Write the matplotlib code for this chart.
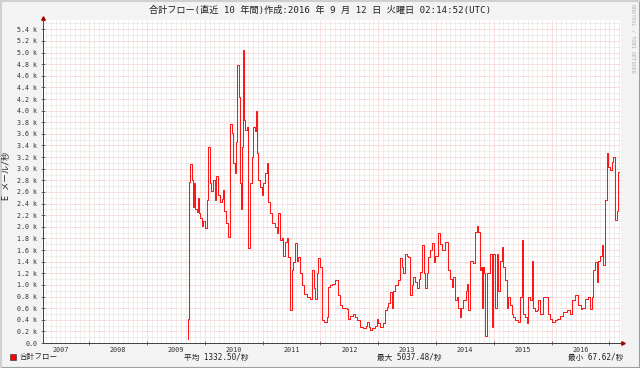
import numpy as np
import matplotlib
matplotlib.use("Agg")
from matplotlib import pyplot as plt
from matplotlib.patches import Rectangle
from matplotlib.lines import Line2D

# 合計フロー: decimal year / value in k mails per second
years = [2009.20, 2009.215, 2009.225, 2009.24, 2009.27, 2009.29, 2009.31, 2009.33, 2009.36, 2009.38,
         2009.40, 2009.42, 2009.45, 2009.47, 2009.50, 2009.53, 2009.56, 2009.59, 2009.61, 2009.64,
         2009.68, 2009.70, 2009.73, 2009.76, 2009.79, 2009.81, 2009.84, 2009.87, 2009.90, 2009.93,
         2009.97, 2009.99, 2010.02, 2010.04, 2010.06, 2010.09, 2010.10, 2010.12, 2010.14, 2010.16,
         2010.18, 2010.20, 2010.23, 2010.25, 2010.28, 2010.31, 2010.33, 2010.36, 2010.39, 2010.40,
         2010.42, 2010.45, 2010.49, 2010.51, 2010.54, 2010.57, 2010.59, 2010.63, 2010.66, 2010.71,
         2010.75, 2010.77, 2010.80, 2010.83, 2010.85, 2010.89, 2010.92, 2010.94, 2010.97, 2011.00,
         2011.03, 2011.06, 2011.09, 2011.11, 2011.15, 2011.18, 2011.21, 2011.27, 2011.32, 2011.35,
         2011.38, 2011.41, 2011.44, 2011.46, 2011.49, 2011.53, 2011.57, 2011.61, 2011.63, 2011.67,
         2011.70, 2011.75, 2011.80, 2011.83, 2011.87, 2011.96, 2011.98, 2012.01, 2012.06, 2012.10,
         2012.13, 2012.18, 2012.24, 2012.28, 2012.31, 2012.34, 2012.36, 2012.40, 2012.44, 2012.48,
         2012.50, 2012.53, 2012.58, 2012.62, 2012.65, 2012.67, 2012.70, 2012.73, 2012.76, 2012.79,
         2012.84, 2012.88, 2012.91, 2012.93, 2012.96, 2012.99, 2013.02, 2013.05, 2013.08, 2013.10,
         2013.14, 2013.17, 2013.20, 2013.22, 2013.26, 2013.29, 2013.31, 2013.34, 2013.36, 2013.40,
         2013.43, 2013.46, 2013.48, 2013.53, 2013.57, 2013.60, 2013.66, 2013.71, 2013.75, 2013.78,
         2013.79, 2013.83, 2013.86, 2013.88, 2013.91, 2013.94, 2013.97, 2014.02, 2014.04, 2014.05,
         2014.09, 2014.14, 2014.17, 2014.21, 2014.23, 2014.26, 2014.28, 2014.30, 2014.31, 2014.33,
         2014.35, 2014.38, 2014.43, 2014.47, 2014.49, 2014.52, 2014.55, 2014.57, 2014.61, 2014.64,
         2014.66, 2014.69, 2014.73, 2014.75, 2014.78, 2014.81, 2014.84, 2014.87, 2014.92, 2014.95,
         2014.99, 2015.00, 2015.04, 2015.07, 2015.09, 2015.13, 2015.16, 2015.18, 2015.22, 2015.25,
         2015.26, 2015.30, 2015.35, 2015.42, 2015.44, 2015.48, 2015.51, 2015.55, 2015.59, 2015.65,
         2015.70, 2015.77, 2015.82, 2015.85, 2015.90, 2015.96, 2016.00, 2016.03, 2016.08, 2016.13,
         2016.16, 2016.20, 2016.22, 2016.25, 2016.29, 2016.30, 2016.34, 2016.37, 2016.39, 2016.42,
         2016.46, 2016.48, 2016.51, 2016.54, 2016.56, 2016.60, 2016.63, 2016.65, 2016.67]
flow_k = [0.07, 0.42, 2.77, 3.08, 2.80, 2.34, 2.75, 2.30, 2.25, 2.50,
          2.23, 2.15, 2.02, 2.10, 1.98, 2.46, 3.37, 2.75, 2.62, 2.80,
          2.46, 2.87, 2.55, 2.42, 2.48, 2.63, 2.28, 2.06, 1.82, 3.77,
          3.62, 3.10, 2.92, 3.46, 4.79, 4.24, 2.75, 2.30, 3.37, 5.04,
          3.84, 3.67, 3.72, 1.63, 2.75, 3.20, 3.72, 3.65, 4.00, 3.27,
          2.80, 2.68, 2.54, 2.75, 2.92, 3.10, 2.42, 2.23, 2.06, 2.00,
          1.90, 2.23, 1.77, 1.80, 1.50, 1.74, 1.80, 1.48, 0.56, 1.25,
          1.40, 1.72, 1.42, 1.48, 1.20, 1.00, 0.85, 0.79, 0.76, 1.25,
          0.95, 0.76, 1.20, 1.46, 1.30, 0.39, 0.36, 0.44, 0.96, 1.00,
          1.02, 1.08, 0.82, 0.65, 0.61, 0.58, 0.42, 0.47, 0.50, 0.44,
          0.40, 0.27, 0.25, 0.30, 0.36, 0.28, 0.22, 0.26, 0.30, 0.42,
          0.35, 0.27, 0.35, 0.56, 0.62, 0.68, 0.87, 0.61, 0.90, 1.00,
          1.08, 1.46, 1.30, 1.20, 1.54, 1.50, 1.48, 0.82, 1.00, 1.13,
          1.05, 0.94, 1.10, 1.22, 1.68, 1.20, 0.94, 1.20, 1.48, 1.60,
          1.72, 1.40, 1.50, 1.89, 1.70, 1.60, 1.74, 1.25, 1.10, 0.96,
          1.13, 0.74, 0.80, 0.61, 0.44, 0.60, 0.74, 0.90, 1.02, 0.56,
          1.42, 1.37, 1.91, 2.02, 1.91, 1.25, 1.30, 0.61, 1.30, 1.20,
          0.12, 1.20, 1.54, 0.27, 1.54, 0.61, 1.54, 0.90, 1.42, 1.65,
          1.30, 1.08, 0.61, 0.79, 0.65, 0.50, 0.45, 0.39, 0.36, 0.79,
          1.77, 0.50, 0.45, 0.34, 0.79, 0.74, 1.42, 0.61, 0.55, 0.56,
          0.74, 0.50, 0.79, 0.79, 0.50, 0.42, 0.36, 0.40, 0.42, 0.47,
          0.53, 0.56, 0.50, 0.74, 0.82, 0.65, 0.58, 0.61, 0.76, 0.79,
          0.59, 0.79, 1.25, 1.39, 1.05, 1.42, 1.50, 1.68, 1.34, 2.46,
          3.27, 3.03, 2.98, 3.11, 3.20, 2.11, 2.28, 2.94, 2.94]

year_labels = [2007, 2008, 2009, 2010, 2011, 2012, 2013, 2014, 2015, 2016]
avg_rate = 1332.50
max_rate = 5037.48
min_rate = 67.62

title = "合計フロー(直近 10 年間)作成:2016 年 9 月 12 日 火曜日 02:14:52(UTC)"
MONO = ['DejaVu Sans Mono', 'Noto Sans CJK JP']

W, H = 640, 368
fig = plt.figure(figsize=(6.4, 3.68), dpi=100)
fig.patch.set_facecolor('#f3f3f3')
ax = fig.add_axes([43 / W, 1 - 343 / H, 578 / W, 323 / H])
ax.set_facecolor('white')

t = np.array(years)
flow = np.array(flow_k) * 1000
ax.step(t, flow, where='post', color='#ff0000', lw=0.65, zorder=3)

ax.set_xlim(2006.70, 2016.70)
ax.set_ylim(0, 5560)

# grid: months (minor) / mid-year (major), 100 (minor) / 200 (major)
months = np.arange(2006.75, 2016.70, 1 / 12)
mid_years = np.arange(2007.5, 2016.6, 1)
ax.set_xticks(mid_years, labels=[""] * len(mid_years))
ax.set_xticks(months, minor=True)
yt = np.arange(0, 5401, 200)
ax.set_yticks(yt, labels=["0.0" if v == 0 else "%.1f k" % (v / 1000) for v in yt])
ax.set_yticks(np.arange(100, 5560, 200), minor=True)
ax.grid(which='minor', color='#ebe6e6', lw=0.5)
ax.grid(which='major', color='#f8cfcf', lw=0.5)
ax.set_axisbelow(True)

ax.tick_params(which='major', length=3, width=0.5, direction='inout', color='#404040')
ax.tick_params(which='minor', length=0)
ax.tick_params(axis='y', labelsize=4.8, labelcolor='#333333', pad=2.5)
for lbl in ax.get_yticklabels():
    lbl.set_fontfamily(MONO)

for y in year_labels:
    ax.text(y, -0.013, str(y), transform=ax.get_xaxis_transform(), ha='center', va='top',
            fontsize=4.9, family=MONO, color='#333333')

for s in ['top', 'right']:
    ax.spines[s].set_visible(False)
for s in ['left', 'bottom']:
    ax.spines[s].set_color('#404040')
    ax.spines[s].set_linewidth(0.7)

# axis arrows
ax.plot([1.004], [0], marker='>', ms=2.5, color='#a00000', transform=ax.transAxes, clip_on=False)
ax.plot([0], [1.006], marker='^', ms=2.5, color='#a00000', transform=ax.transAxes, clip_on=False)

fig.text(0.5, 1 - 10 / H, title, ha='center', va='center', fontsize=6.6, family=MONO, color='#202020')
fig.text(7 / W, 1 - 176 / H, "E メール/秒", rotation=90, ha='center', va='center',
         fontsize=6, family=MONO, color='#202020')
fig.text(633 / W, 1 - 4 / H, "RRDTOOL / TOBI OETIKER", rotation=270, ha='center', va='top',
         fontsize=3.8, family=MONO, color='#b0b0b0')

# legend row
fig.add_artist(Rectangle((10 / W, 1 - 360 / H), 6 / W, 6 / H, transform=fig.transFigure,
                         facecolor='#ff0000', edgecolor='#404040', lw=0.5))
ly = 1 - 357 / H
fig.text(20 / W, ly, "合計フロー", va='center', fontsize=5.5, family=MONO, color='#202020')
fig.text(216 / W, ly, "平均 %.2f/秒" % avg_rate, ha='center', va='center', fontsize=5.5, family=MONO, color='#202020')
fig.text(409 / W, ly, "最大 %.2f/秒" % max_rate, ha='center', va='center', fontsize=5.5, family=MONO, color='#202020')
fig.text(623 / W, ly, "最小 %.2f/秒" % min_rate, ha='right', va='center', fontsize=5.5, family=MONO, color='#202020')

# shaded frame
fig.add_artist(Line2D([0, 1], [0.5 / H, 0.5 / H], transform=fig.transFigure, color='#9e9e9e', lw=1.5))
fig.add_artist(Line2D([1 - 0.5 / W, 1 - 0.5 / W], [0, 1], transform=fig.transFigure, color='#9e9e9e', lw=1.5))
fig.add_artist(Line2D([0, 1], [1 - 0.5 / H, 1 - 0.5 / H], transform=fig.transFigure, color='#cfcfcf', lw=1.5))
fig.add_artist(Line2D([0.5 / W, 0.5 / W], [0, 1], transform=fig.transFigure, color='#cfcfcf', lw=1.5))

fig.savefig("out.png", dpi=100, facecolor=fig.get_facecolor())
